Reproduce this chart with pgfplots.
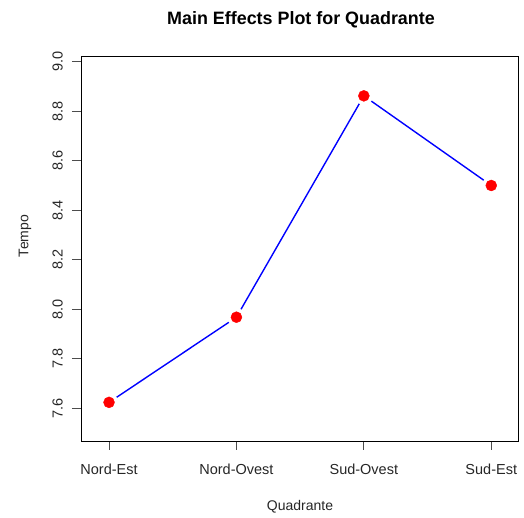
\documentclass[border=0pt]{standalone}
\usepackage{pgfplots}
\pgfplotsset{compat=1.18}
\usepackage{fontspec}
\setmainfont{Liberation Sans}
\begin{document}
\begin{tikzpicture}
\path[use as bounding box] (0pt,0pt) rectangle (524pt,518pt);
\begin{axis}[
  at={(81pt,77pt)}, anchor=south west,
  scale only axis, width=437pt, height=385pt,
  xmin=-0.22, xmax=3.21,
  ymin=7.468, ymax=9.023,
  xtick={0,1,2,3},
  xticklabels={Nord-Est,Nord-Ovest,Sud-Ovest,Sud-Est},
  ytick={7.6,7.8,8.0,8.2,8.4,8.6,8.8,9.0},
  yticklabels={7.6,7.8,8.0,8.2,8.4,8.6,8.8,9.0},
  tick align=outside, major tick length=9pt,
  tick style={black!70, line width=0.8pt},
  xtick pos=bottom, ytick pos=left,
  axis line style={black, line width=0.8pt},
  ticklabel style={font=\fontsize{14.5}{16}\selectfont, text=black!85},
  yticklabel style={rotate=90, anchor=south},
  xticklabel style={anchor=north, yshift=-14pt},
  every tick label/.append style={inner sep=0pt},
  yticklabel shift=9pt,
  clip=false,
]
\addplot[blue, line width=1.4pt] coordinates {(0,7.624) (1,7.968) (2,8.862) (3,8.500)};
\addplot[only marks, mark=*, mark size=9pt, mark options={draw=white, fill=white}] coordinates {(0,7.624) (1,7.968) (2,8.862) (3,8.500)};
\addplot[only marks, mark=*, mark size=5.5pt, mark options={draw=red, fill=red}] coordinates {(0,7.624) (1,7.968) (2,8.862) (3,8.500)};
\end{axis}
\node[font=\bfseries\fontsize{17.9}{20}\selectfont] at (301pt,498pt) {Main Effects Plot for Quadrante};
\node[font=\fontsize{14}{16}\selectfont, text=black!85] at (300pt,11pt) {Quadrante};
\node[font=\fontsize{14}{16}\selectfont, text=black!85, rotate=90] at (25pt,282pt) {Tempo};
\end{tikzpicture}
\end{document}
